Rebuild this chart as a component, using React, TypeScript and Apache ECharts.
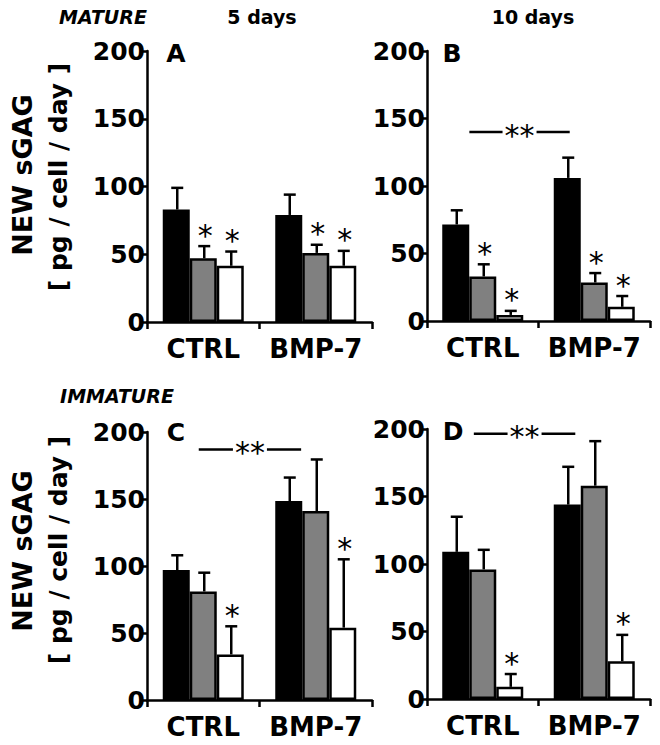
import React, { useEffect, useRef } from "react";
import * as echarts from "echarts";

const categories = ["CTRL", "BMP-7"];
const yTicks = [0, 50, 100, 150, 200];

// Panel A (mature, 5 days)
const aBlack = [83, 79];
const aBlackErr = [99, 94];
const aGray = [47, 51];
const aGrayErr = [56, 57];
const aWhite = [41.5, 41.5];
const aWhiteErr = [52, 52.5];
const aStars = [[0, 0], [1, 1], [1, 1]];

// Panel B (mature, 10 days)
const bBlack = [71.5, 106];
const bBlackErr = [82, 121];
const bGray = [33, 28.5];
const bGrayErr = [42, 35.5];
const bWhite = [4.5, 10.5];
const bWhiteErr = [7.5, 18.5];
const bStars = [[0, 0], [1, 1], [1, 1]];
const bSig = [140, -0.12, 0.78];

// Panel C (immature, 5 days)
const cBlack = [97, 148.5];
const cBlackErr = [108, 166];
const cGray = [81, 141];
const cGrayErr = [95, 179.5];
const cWhite = [34, 54];
const cWhiteErr = [55, 105];
const cStars = [[0, 0], [0, 0], [1, 1]];
const cSig = [187, -0.04, 0.87];

// Panel D (immature, 10 days)
const dBlack = [109, 144];
const dBlackErr = [135, 172];
const dGray = [96, 158];
const dGrayErr = [110.5, 191];
const dWhite = [9, 28];
const dWhiteErr = [18.5, 47.5];
const dStars = [[0, 0], [0, 0], [1, 1]];
const dSig = [196.5, -0.08, 0.83];

const FONT = "DejaVu Sans";
const BAR_W = 27;
const FILLS = ["#000000", "#808080", "#ffffff"];

const grids = [
  { left: 147, top: 51, width: 225, height: 271 },
  { left: 427, top: 51, width: 223, height: 270 },
  { left: 147, top: 432, width: 225, height: 268 },
  { left: 427, top: 429, width: 223, height: 270 },
];

const panels = [
  { vals: [aBlack, aGray, aWhite], errs: [aBlackErr, aGrayErr, aWhiteErr], stars: aStars, sig: null as number[] | null },
  { vals: [bBlack, bGray, bWhite], errs: [bBlackErr, bGrayErr, bWhiteErr], stars: bStars, sig: bSig },
  { vals: [cBlack, cGray, cWhite], errs: [cBlackErr, cGrayErr, cWhiteErr], stars: cStars, sig: cSig },
  { vals: [dBlack, dGray, dWhite], errs: [dBlackErr, dGrayErr, dWhiteErr], stars: dStars, sig: dSig },
];

function buildOption() {
  const xAxis: any[] = [];
  const yAxis: any[] = [];
  const series: any[] = [];
  grids.forEach((g, gi) => {
    xAxis.push({
      type: "category",
      gridIndex: gi,
      data: categories,
      axisLine: { show: true, lineStyle: { color: "#000", width: 2.5 } },
      axisTick: { show: true, length: 7, lineStyle: { color: "#000", width: 2.5 }, alignWithLabel: false },
      axisLabel: { color: "#000", fontSize: 26, fontWeight: "bold", fontFamily: FONT, margin: 14, interval: 0 },
      splitLine: { show: false },
    });
    yAxis.push({
      type: "value",
      gridIndex: gi,
      min: yTicks[0],
      max: yTicks[yTicks.length - 1],
      interval: 50,
      axisLine: { show: true, lineStyle: { color: "#000", width: 2.5 } },
      axisTick: { show: true, length: 5, lineStyle: { color: "#000", width: 2.5 } },
      axisLabel: { color: "#000", fontSize: 25, fontWeight: "bold", fontFamily: FONT, margin: 2 },
      splitLine: { show: false },
    });
    const p = panels[gi];
    p.vals.forEach((v, bi) => {
      series.push({
        type: "bar",
        xAxisIndex: gi,
        yAxisIndex: gi,
        data: v,
        barWidth: BAR_W,
        barGap: "0%",
        itemStyle: { color: FILLS[bi], borderColor: "#000", borderWidth: 2.5 },
        z: 2,
      });
    });
    const errData: number[][] = [];
    p.vals.forEach((v, bi) => {
      v.forEach((val, ci) => {
        errData.push([ci, val, p.errs[bi][ci], p.stars[bi][ci], bi]);
      });
    });
    series.push({
      type: "custom",
      xAxisIndex: gi,
      yAxisIndex: gi,
      data: errData,
      z: 5,
      encode: { x: 0, y: 1 },
      renderItem: (params: any, api: any) => {
        const ci = api.value(0);
        const mean = api.value(1);
        const up = api.value(2);
        const star = api.value(3);
        const bi = api.value(4);
        const base = api.coord([ci, mean]);
        const top = api.coord([ci, up]);
        const x = base[0] + (bi - 1) * BAR_W + 1;
        const children: any[] = [
          { type: "line", shape: { x1: x, y1: base[1], x2: x, y2: top[1] }, style: { stroke: "#000", lineWidth: 2.5 } },
          { type: "line", shape: { x1: x - 6, y1: top[1], x2: x + 6, y2: top[1] }, style: { stroke: "#000", lineWidth: 2.5 } },
        ];
        if (star) {
          children.push({
            type: "text",
            style: {
              text: "*",
              x: x + 1,
              y: top[1] - 11,
              fill: "#000",
              font: `normal 30px "${FONT}"`,
              align: "center",
              verticalAlign: "middle",
            },
          });
        }
        return { type: "group", children };
      },
    });
    if (p.sig) {
      series.push({
        type: "custom",
        xAxisIndex: gi,
        yAxisIndex: gi,
        data: [[0, p.sig[0], p.sig[1], p.sig[2]]],
        z: 5,
        encode: { x: 0, y: 1 },
        renderItem: (params: any, api: any) => {
          const c = api.coord([0, api.value(1)]);
          const band = api.size([1, 0])[0];
          const x1 = c[0] + api.value(2) * band;
          const x2 = c[0] + api.value(3) * band;
          const mid = (x1 + x2) / 2;
          const y = c[1];
          return {
            type: "group",
            children: [
              { type: "line", shape: { x1, y1: y, x2: mid - 17, y2: y }, style: { stroke: "#000", lineWidth: 2.5 } },
              { type: "line", shape: { x1: mid + 17, y1: y, x2, y2: y }, style: { stroke: "#000", lineWidth: 2.5 } },
              {
                type: "text",
                style: {
                  text: "**",
                  x: mid,
                  y: y + 3,
                  fill: "#000",
                  font: `normal 30px "${FONT}"`,
                  align: "center",
                  verticalAlign: "middle",
                },
              },
            ],
          };
        },
      });
    }
  });

  const t = (text: string, x: number, y: number, size: number, extra: any = {}) => ({
    type: "text",
    x,
    y,
    ...extra,
    style: {
      text,
      fill: "#000",
      font: `${extra.italic ? "italic " : ""}bold ${size}px "${FONT}"`,
      align: "center",
      verticalAlign: "middle",
    },
  });

  const graphic: any[] = [
    t("MATURE", 103, 17, 19, { italic: true }),
    t("5 days", 262, 17, 19),
    t("10 days", 533, 17, 19),
    t("IMMATURE", 117, 396, 19, { italic: true }),
    t("A", 176, 53, 25),
    t("B", 452, 53, 25),
    t("C", 176, 432, 25),
    t("D", 453, 431, 25),
    t("NEW sGAG", 22, 175, 27, { rotation: Math.PI / 2 }),
    t("[ pg / cell / day ]", 58, 177, 25, { rotation: Math.PI / 2 }),
    t("NEW sGAG", 22, 551, 27, { rotation: Math.PI / 2 }),
    t("[ pg / cell / day ]", 58, 550, 25, { rotation: Math.PI / 2 }),
  ].map((g) => {
    const { italic, ...rest } = g as any;
    return rest;
  });

  return {
    animation: false,
    backgroundColor: "#ffffff",
    grid: grids.map((g) => ({ ...g, containLabel: false, outerBoundsMode: "none" })),
    xAxis,
    yAxis,
    series,
    graphic,
  };
}

export default function App() {
  const ref = useRef<HTMLDivElement>(null);
  useEffect(() => {
    if (!ref.current) return;
    const chart = echarts.init(ref.current, undefined, { renderer: "svg" });
    chart.setOption(buildOption() as any);
    return () => chart.dispose();
  }, []);
  return (
    <div
      ref={ref}
      style={{ position: "absolute", left: 0, top: 0, width: 660, height: 745, background: "#fff" }}
    />
  );
}
